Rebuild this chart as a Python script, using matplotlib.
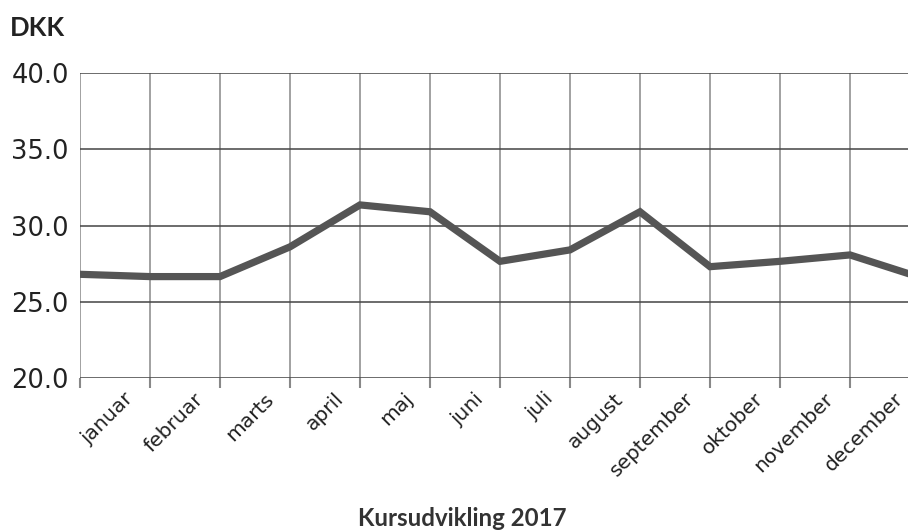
import matplotlib
matplotlib.use("Agg")
import matplotlib.pyplot as plt
import matplotlib.transforms as mtransforms

months = ["januar", "februar", "marts", "april", "maj", "juni", "juli",
          "august", "september", "oktober", "november", "december"]
values = [26.8, 26.65, 26.65, 28.6, 31.35, 30.9, 27.65, 28.4, 30.9, 27.3, 27.65, 28.07, 26.6]
yticks = [20.0, 25.0, 30.0, 35.0, 40.0]

W, H = 908, 530
fig = plt.figure(figsize=(W / 100, H / 100), dpi=100)
ax = fig.add_axes([80 / W, 1 - 378 / H, (908 - 80) / W, (378 - 73) / H])

x = list(range(len(values)))
ax.plot(x, values, color="#555555", lw=5.2, solid_joinstyle="miter", zorder=3)

ax.set_xlim(0, (908 - 80) / 70)
ax.set_ylim(20, 40)
ax.set_yticks(yticks)
ax.set_yticklabels([f"{v:.1f}" for v in yticks], fontfamily="DejaVu Sans", fontsize=18.5, color="#222222")
ax.tick_params(axis="y", length=0, pad=8)

ax.set_xticks(range(12))
ax.set_xticklabels([])
ax.tick_params(axis="x", length=7, width=1.5, color="#888888", direction="out")

for i in range(12):
    ax.axvline(i, color="#888888", lw=1.1, zorder=1)
for v in yticks:
    ax.axhline(v, color="#444444", lw=1.1, zorder=1)

for s in ax.spines.values():
    s.set_visible(False)

offset = mtransforms.ScaledTranslation(0, -18 / 100, fig.dpi_scale_trans)
trans = mtransforms.blended_transform_factory(ax.transData, ax.transAxes) + offset
for i, m in enumerate(months):
    ax.text(i + 0.72, 0, m, transform=trans, rotation=45, ha="right", va="center",
            rotation_mode="anchor", fontfamily="DejaVu Sans", fontsize=14.5, color="#222222")

fig.text(10 / W, 1 - 28 / H, "DKK", fontfamily="Lato", fontweight="bold", fontsize=18.5,
         color="#222222", va="center", ha="left")
fig.text(462 / W, 1 - 518 / H, "Kursudvikling 2017", fontfamily="Lato", fontweight="bold",
         fontsize=17.3, color="#333333", va="center", ha="center")

fig.savefig("out.png", dpi=100)
